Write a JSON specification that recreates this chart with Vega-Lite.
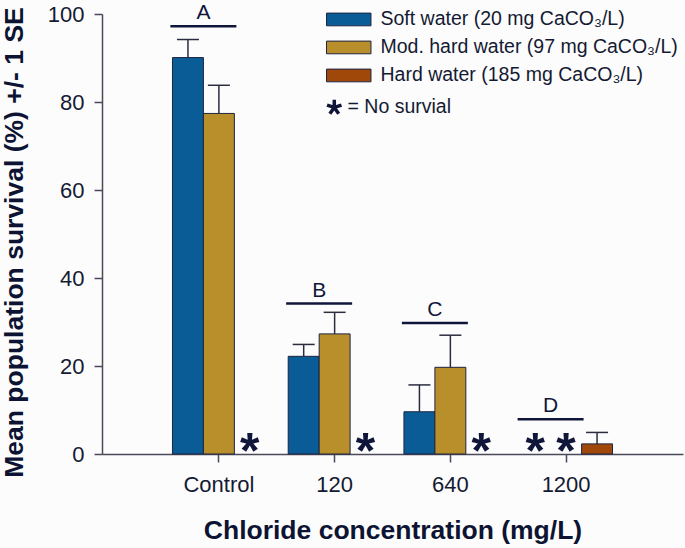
{
  "$schema": "https://vega.github.io/schema/vega-lite/v6.json",
  "width": 581,
  "height": 440,
  "autosize": "none",
  "padding": {"left": 102, "top": 14, "right": 2, "bottom": 94},
  "background": "#fcfcfc",
  "config": {
    "view": {"stroke": null},
    "font": "Liberation Sans",
    "axis": {"grid": false, "domainColor": "#4a4a5a", "tickColor": "#4a4a5a", "labelColor": "#141a33", "titleColor": "#0d1433", "labelFont": "Liberation Sans", "titleFont": "Liberation Sans", "labelFontSize": 22, "titleFontSize": 26.5, "titleFontWeight": "bold", "tickSize": 8, "domainWidth": 1.5, "tickWidth": 1.5}
  },
  "datasets": {
    "bars": [
      {"conc": "Control", "water": "Soft water (20 mg CaCO₃/L)", "mean": 90.1, "hi": 94.2},
      {"conc": "Control", "water": "Mod. hard water (97 mg CaCO₃/L)", "mean": 77.4, "hi": 83.8},
      {"conc": "Control", "water": "Hard water (185 mg CaCO₃/L)", "mean": 0, "hi": null},
      {"conc": "120", "water": "Soft water (20 mg CaCO₃/L)", "mean": 22.2, "hi": 24.9},
      {"conc": "120", "water": "Mod. hard water (97 mg CaCO₃/L)", "mean": 27.3, "hi": 32.2},
      {"conc": "120", "water": "Hard water (185 mg CaCO₃/L)", "mean": 0, "hi": null},
      {"conc": "640", "water": "Soft water (20 mg CaCO₃/L)", "mean": 9.6, "hi": 15.7},
      {"conc": "640", "water": "Mod. hard water (97 mg CaCO₃/L)", "mean": 19.7, "hi": 27.0},
      {"conc": "640", "water": "Hard water (185 mg CaCO₃/L)", "mean": 0, "hi": null},
      {"conc": "1200", "water": "Soft water (20 mg CaCO₃/L)", "mean": 0, "hi": null},
      {"conc": "1200", "water": "Mod. hard water (97 mg CaCO₃/L)", "mean": 0, "hi": null},
      {"conc": "1200", "water": "Hard water (185 mg CaCO₃/L)", "mean": 2.3, "hi": 4.9}
    ],
    "letters": [
      {"conc": "Control", "letter": "A", "line": 97.2},
      {"conc": "120", "letter": "B", "line": 34.2},
      {"conc": "640", "letter": "C", "line": 29.8},
      {"conc": "1200", "letter": "D", "line": 7.9}
    ]
  },
  "encoding": {
    "x": {
      "field": "conc", "type": "nominal", "sort": ["Control", "120", "640", "1200"],
      "scale": {"domain": ["Control", "120", "640", "1200"], "paddingInner": 0, "paddingOuter": 0.51},
      "axis": {"title": "Chloride concentration (mg/L)", "labelAngle": 0, "labelPadding": 12, "titleY": 76, "titleBaseline": "middle"}
    }
  },
  "layer": [
    {
      "data": {"name": "bars"},
      "transform": [{"filter": "datum.mean > 0"}],
      "mark": {"type": "bar", "stroke": "#1e2440", "strokeWidth": 1},
      "encoding": {
        "xOffset": {"field": "water", "type": "nominal", "scale": {"domain": ["Soft water (20 mg CaCO₃/L)", "Mod. hard water (97 mg CaCO₃/L)", "Hard water (185 mg CaCO₃/L)"], "paddingInner": 0, "paddingOuter": 0.37}},
        "y": {
          "field": "mean", "type": "quantitative",
          "scale": {"domain": [0, 100], "nice": false},
          "axis": {"title": "Mean population survival (%) +/- 1 SE", "values": [0, 20, 40, 60, 80, 100], "labelPadding": 10, "titleX": -88, "titleY": 228, "titleBaseline": "middle", "titleAlign": "center"}
        },
        "color": {
          "field": "water", "type": "nominal",
          "scale": {"domain": ["Soft water (20 mg CaCO₃/L)", "Mod. hard water (97 mg CaCO₃/L)", "Hard water (185 mg CaCO₃/L)", "= No survial"], "range": ["#0a5c96", "#b98f2c", "#a0480a", "#10163a"]},
          "legend": {
            "title": null, "orient": "none", "legendX": 237, "legendY": -4.3, "padding": 0,
            "symbolType": "M-1.75,-0.5H1.75V0.5H-1.75Z", "symbolSize": 645,
            "symbolStrokeColor": "#1e2440", "symbolStrokeWidth": 1, "symbolOpacity": 1,
            "labelFont": "Liberation Sans", "labelFontSize": 19.5, "labelColor": "#141a33", "labelOffset": 22, "labelLimit": 400,
            "rowPadding": 7,
            "encode": {
              "symbols": {"update": {
                "shape": {"signal": "datum.value === '= No survial' ? 'M-1.14,0L-1.14,-0.6M-1.14,0L-0.57,-0.19M-1.14,0L-0.79,0.49M-1.14,0L-1.49,0.49M-1.14,0L-1.71,-0.19' : 'M-1.75,-0.5H1.75V0.5H-1.75Z'"},
                "strokeWidth": {"signal": "datum.value === '= No survial' ? 3.5 : 1"},
                "stroke": {"signal": "datum.value === '= No survial' ? '#10163a' : '#1e2440'"}
              }},
              "labels": {"update": {"dx": {"signal": "datum.value === '= No survial' ? -33 : 0"}}}
            }
          }
        }
      }
    },
    {
      "data": {"name": "bars"},
      "transform": [{"filter": "datum.mean > 0"}],
      "mark": {"type": "rule", "color": "#2a2d40", "strokeWidth": 1.5},
      "encoding": {
        "xOffset": {"field": "water", "type": "nominal"},
        "y": {"field": "mean", "type": "quantitative"},
        "y2": {"field": "hi"}
      }
    },
    {
      "data": {"name": "bars"},
      "transform": [{"filter": "datum.mean > 0"}],
      "mark": {"type": "tick", "orient": "horizontal", "size": 22, "thickness": 1.5, "color": "#2a2d40", "opacity": 1},
      "encoding": {
        "xOffset": {"field": "water", "type": "nominal"},
        "y": {"field": "hi", "type": "quantitative"}
      }
    },
    {
      "data": {"name": "bars"},
      "transform": [{"filter": "datum.mean == 0"}],
      "mark": {"type": "text", "text": "*", "fontSize": 50, "fontWeight": "bold", "font": "Liberation Sans", "color": "#10163a", "baseline": "alphabetic", "dy": 14},
      "encoding": {
        "xOffset": {"field": "water", "type": "nominal"},
        "y": {"datum": 0, "type": "quantitative"}
      }
    },
    {
      "data": {"name": "letters"},
      "mark": {"type": "tick", "orient": "horizontal", "size": 66, "thickness": 2.5, "color": "#10163a", "opacity": 1, "xOffset": -15.5},
      "encoding": {
        "y": {"field": "line", "type": "quantitative"}
      }
    },
    {
      "data": {"name": "letters"},
      "mark": {"type": "text", "fontSize": 21, "font": "Liberation Sans", "color": "#10163a", "baseline": "alphabetic", "dy": -7, "xOffset": -15.5},
      "encoding": {
        "y": {"field": "line", "type": "quantitative"},
        "text": {"field": "letter"}
      }
    }
  ]
}
